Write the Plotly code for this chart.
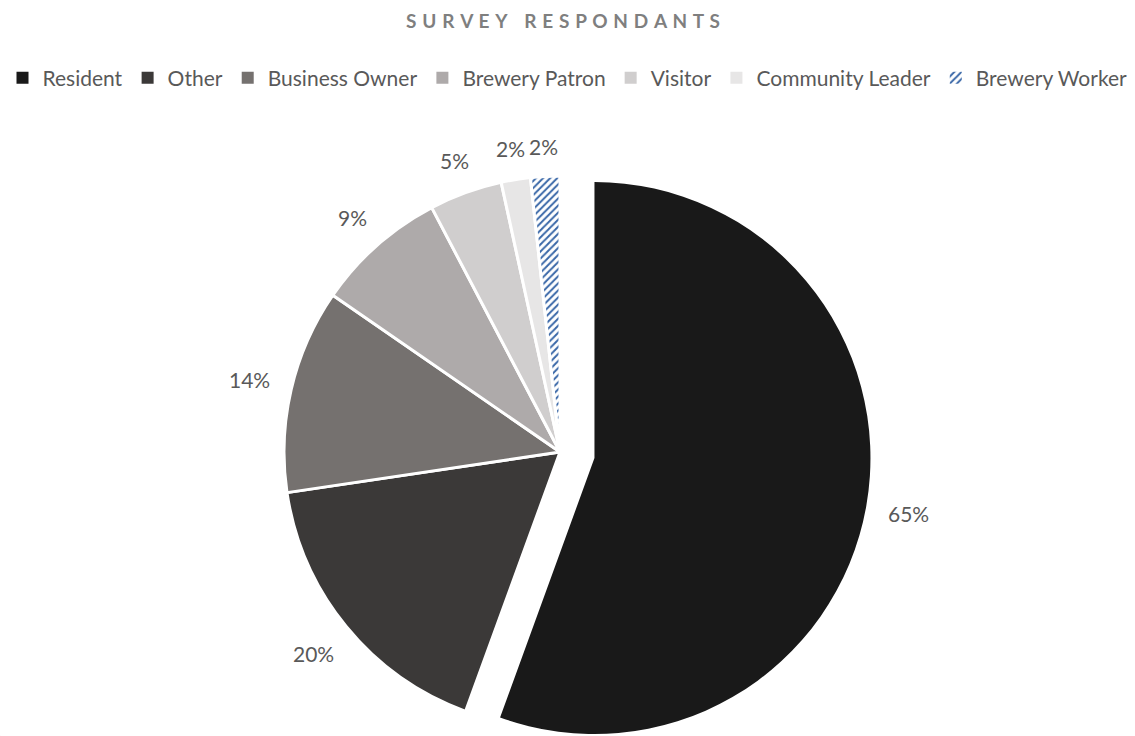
import math
import plotly.graph_objects as go

categories = ["Resident", "Other", "Business Owner", "Brewery Patron", "Visitor", "Community Leader", "Brewery Worker"]
values = [65, 20, 14, 9, 5, 2, 2]
colors = ["#191919", "#3b3938", "#75716f", "#aeaaaa", "#d0cece", "#e7e6e6", "#dae5f3"]
patterns = ["", "", "", "", "", "", "/"]
labels_text = [f"{v}%" for v in values]
pulled = "Resident"

W, H = 1135, 736
cx, cy, r = 560, 452, 276
pull_px = 35.0
gap = 22
label_size = 21
font_family = "Lato, Open Sans, sans-serif"
label_color = "#595959"
transparent = "rgba(0,0,0,0)"


def dom(cxp, cyp, rr):
    return dict(x=[(cxp - rr) / W, (cxp + rr) / W],
                y=[(H - (cyp + rr)) / H, (H - (cyp - rr)) / H])


tot = sum(values)
# geometry of each slice (clockwise from 12 o'clock)
mids = []
acc = 0
for v in values:
    mids.append((acc + v / 2) / tot * 360)
    acc += v
pmid = mids[categories.index(pulled)]
pcx = cx + pull_px * math.sin(math.radians(pmid))
pcy = cy - pull_px * math.cos(math.radians(pmid))

fig = go.Figure()

pattern_style = dict(shape=patterns, fgcolor="#3a68a8", size=5, solidity=0.4)

# legend-only pie (tiny, invisible)
fig.add_trace(go.Pie(
    labels=categories, values=values, sort=False, direction="clockwise",
    marker=dict(colors=colors, line=dict(width=0), pattern=pattern_style),
    domain=dict(x=[0, 0.0002], y=[0, 0.0002]), textinfo="none", hoverinfo="skip",
    showlegend=True,
))

# main pie (all slices except the pulled one)
colsA = [transparent if c == pulled else col for c, col in zip(categories, colors)]
lineA = [transparent if c == pulled else "white" for c in categories]
fig.add_trace(go.Pie(
    labels=categories, values=values, sort=False, direction="clockwise",
    marker=dict(colors=colsA, line=dict(color=lineA, width=3), pattern=pattern_style),
    textinfo="none", domain=dom(cx, cy, r), showlegend=False, hoverinfo="label+value",
))

# pulled-out slice
colsB = [col if c == pulled else transparent for c, col in zip(categories, colors)]
fig.add_trace(go.Pie(
    labels=categories, values=values, sort=False, direction="clockwise",
    marker=dict(colors=colsB, line=dict(width=0)),
    textinfo="none", domain=dom(pcx, pcy, r), showlegend=False, hoverinfo="label+value",
))

# data labels placed outside each slice, along its mid-angle
for cat, txt, mid in zip(categories, labels_text, mids):
    ox, oy = (pcx, pcy) if cat == pulled else (cx, cy)
    ux, uy = math.sin(math.radians(mid)), -math.cos(math.radians(mid))
    w_est = label_size * (0.55 * (len(txt) - 1) + 0.75)
    h_est = label_size * 0.72
    dist = r + gap + abs(ux) * w_est / 2 + abs(uy) * h_est / 2
    lx, ly = ox + ux * dist, oy + uy * dist
    fig.add_annotation(x=lx / W, y=1 - ly / H, xref="paper", yref="paper",
                       text=txt, showarrow=False, xanchor="center", yanchor="middle",
                       font=dict(size=label_size, color=label_color, family=font_family))

sp = "\u00a0\u200a"
title_text = sp.join(list("SURVEY")) + sp * 3 + sp.join(list("RESPONDANTS"))

fig.update_layout(
    width=W, height=H,
    margin=dict(l=0, r=0, t=0, b=0),
    paper_bgcolor="white", plot_bgcolor="white",
    title=dict(text=title_text, x=0.496, xanchor="center", y=1 - 21 / H, yanchor="middle",
               font=dict(size=19, color="#7f7f7f", family=font_family, weight="bold")),
    legend=dict(orientation="h", x=0.5, xanchor="center", y=1 - 78 / H, yanchor="middle",
                font=dict(size=21, color=label_color, family=font_family),
                itemwidth=30, tracegroupgap=0),
    font=dict(family=font_family),
)

fig.write_html("out.html")
